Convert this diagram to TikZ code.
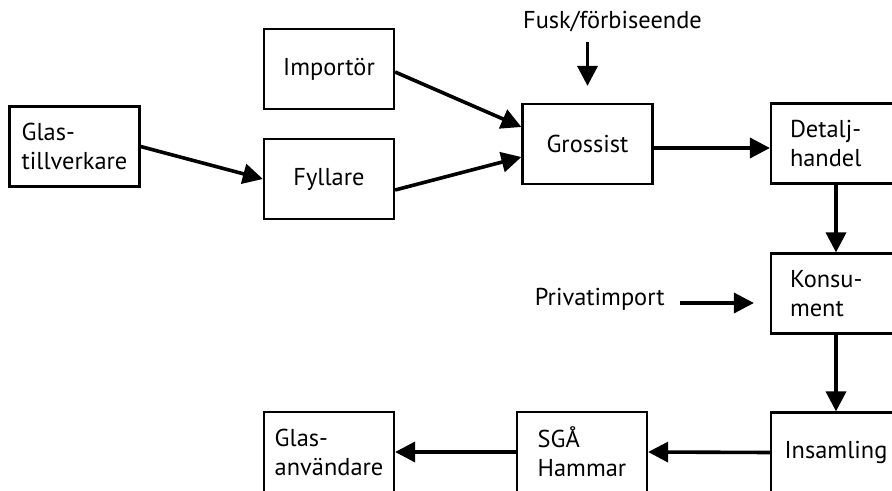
\documentclass[tikz,border=0pt]{standalone}
\usepackage{fontspec}
\setmainfont{PT Sans}
\usetikzlibrary{arrows.meta}

\begin{document}
\begin{tikzpicture}[x=0.5pt, y=-0.5pt,
	box/.style={draw, line width=1.1pt, minimum width=65pt, minimum height=40pt,
		inner sep=0pt, align=left, font=\fontsize{12.2}{14.5}\selectfont},
	rbox/.style={box, text width=46pt, inner xsep=9.5pt},
	lbl/.style={inner sep=0pt, font=\fontsize{12.2}{14.5}\selectfont},
	arr/.style={-{Triangle[length=10pt, width=10pt]}, line width=1.8pt}]

	    \useasboundingbox (0,0) rectangle (892,491);
	    \clip (0,0) rectangle (892,491);

	    \node[box] (glas)      at (74.5,146.5) {Glas-\\tillverkare};
	    \node[box] (importor)  at (329,69)     {Importör};
	    \node[box] (fyllare)   at (329,179)    {Fyllare};
	    \node[box] (grossist)  at (587.5,144)  {Grossist};
	    \node[rbox] (detalj)   at (836,143.5)  {Detalj-\\handel};

		\draw [arr] (glas.east) -- (fyllare.west);
		\draw [arr] ([yshift=-1.5pt]importor.east) -- ([yshift=8.5pt]grossist.west);
		\draw [arr] ([yshift=-5.5pt]fyllare.east) -- ([yshift=-6.5pt]grossist.west);
		\draw [arr] ([yshift=-2pt]grossist.east) -- ([yshift=-2pt]grossist.east -| detalj.west);

	    \node[lbl] (fusk) at (612.5,22) {Fusk/förbiseende};
		\draw [arr, shorten <=4.5pt, shorten >=8.5pt] (fusk.south -| grossist.north) -- (grossist.north);

		%%%%%%%%%%%%%%%%%%%%%%%%%%%%%%%%%%%%%%%%%%%%%%%%%%%%%%%%%%%%%%%%%%%%%

	    \node[rbox] (konsument) at (836,293.5) {Konsu-\\ment};
	    \node[box] (insamling) at (836,452.5)  {Insamling};
	    \node[box] (sga)       at (582,452)    {SGÅ\\Hammar};
	    \node[box] (glasanv)   at (329,452)    {Glas-\\användare};

	    \node[lbl, anchor=east] (privat) at (665,299) {Privatimport};
		\draw [arr, shorten <=7.5pt, shorten >=8pt] ([yshift=-2pt]privat.east) -- ([yshift=-2pt]privat.east -| konsument.west);

		\draw [arr] (detalj.south) -- (konsument.north);
		\draw [arr] (konsument.south) -- (insamling.north);
		\draw [arr] (insamling.west) -- (sga.east);
		\draw [arr] (sga.west) -- (glasanv.east);

\end{tikzpicture}
\end{document}
